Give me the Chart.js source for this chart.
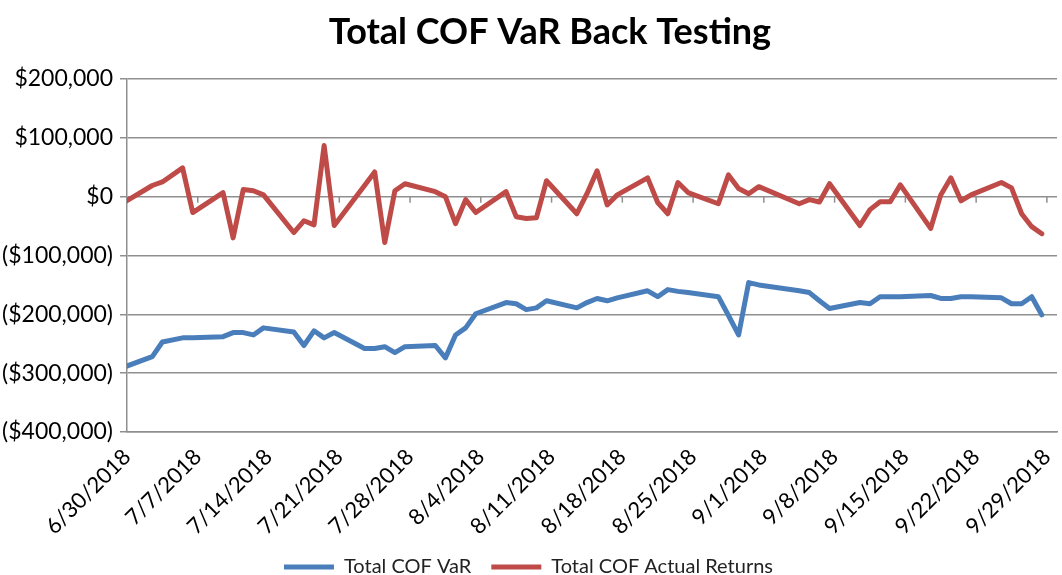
<!DOCTYPE html>
<html>
<head>
<meta charset="utf-8">
<title>Total COF VaR Back Testing</title>
<script src="https://cdn.jsdelivr.net/npm/chart.js@4.4.1/dist/chart.umd.min.js"></script>
<style>
  html, body { margin: 0; padding: 0; background: #fff; }
  canvas { display: block; }
</style>
</head>
<body>
<canvas id="chart" width="1062" height="575"></canvas>
<script>
const chartTitle = 'Total COF VaR Back Testing';

// Trading days (2018)
const dates = ['6/29','7/2','7/3','7/5','7/6','7/9','7/10','7/11','7/12','7/13',
  '7/16','7/17','7/18','7/19','7/20','7/23','7/24','7/25','7/26','7/27',
  '7/30','7/31','8/1','8/2','8/3','8/6','8/7','8/8','8/9','8/10',
  '8/13','8/14','8/15','8/16','8/17','8/20','8/21','8/22','8/23','8/24',
  '8/27','8/28','8/29','8/30','8/31','9/4','9/5','9/6','9/7',
  '9/10','9/11','9/12','9/13','9/14','9/17','9/18','9/19','9/20','9/21',
  '9/24','9/25','9/26','9/27','9/28'];

const varValues = [-291000,-272000,-247000,-240000,-240000,-238000,-231000,-231000,-235000,-223000,
  -230000,-253000,-228000,-240000,-231000,-258000,-258000,-255000,-265000,-255000,
  -253000,-274000,-235000,-223000,-199000,-180000,-182000,-192000,-189000,-177000,
  -189000,-180000,-173000,-177000,-172000,-160000,-170000,-158000,-161000,-163000,
  -170000,-202000,-235000,-146000,-150000,-160000,-163000,-177000,-190000,
  -180000,-182000,-170000,-170000,-170000,-168000,-173000,-173000,-170000,-170000,
  -172000,-182000,-182000,-170000,-201000];

const actualReturns = [-12000,19000,25000,49000,-27000,7000,-70000,12000,10000,3000,
  -61000,-41000,-48000,87000,-49000,19000,42000,-78000,10000,22000,
  8500,0,-46000,-5000,-27000,8500,-34000,-37000,-36000,27000,
  -29000,5000,44000,-14000,3000,32000,-10000,-29000,24000,7000,
  -12000,37000,14000,5000,17000,-12000,-5000,-9000,22000,
  -49000,-22000,-8500,-8500,20000,-54000,3000,32000,-7000,3000,
  24000,15000,-29000,-51000,-63000];

// x axis tick labels: weekly, 6/30/2018 .. 9/29/2018 (as day offsets)
const tickDays = [0, 7, 14, 21, 28, 35, 42, 49, 56, 63, 70, 77, 84, 91];
const axisStart = Date.UTC(2018, 5, 30);
const axisDays = 92;
const DAY = 86400000;

function dayOffset(md) {
  const [m, d] = md.split('/').map(Number);
  return (Date.UTC(2018, m - 1, d) - axisStart) / DAY;
}
function dayLabel(v) {
  const dt = new Date(axisStart + v * DAY);
  return (dt.getUTCMonth() + 1) + '/' + dt.getUTCDate() + '/' + dt.getUTCFullYear();
}
// excel date axis puts each day in the middle of its slot
const xs = dates.map(d => dayOffset(d) + 0.5);
const toPoints = vals => vals.map((v, i) => ({ x: xs[i], y: v }));

function money(v) {
  const s = '$' + Math.abs(v).toLocaleString('en-US');
  return v < 0 ? '(' + s + ')' : s;
}

const gridColor = '#8f8f8f';
const chartLeft = 127;
const chartBottom = 432;
const pad = { left: 0, right: 5, top: 79, bottom: -12 };

// small tick marks on the zero line, like excel's crossing category axis
const zeroTicks = {
  id: 'zeroTicks',
  beforeDatasetsDraw(chart) {
    const { ctx, scales: { x, y } } = chart;
    const y0 = y.getPixelForValue(0);
    ctx.save();
    ctx.strokeStyle = gridColor;
    ctx.lineWidth = 1.5;
    x.ticks.forEach(t => {
      const px = x.getPixelForValue(t.value);
      ctx.beginPath();
      ctx.moveTo(px, y0);
      ctx.lineTo(px, y0 + 6);
      ctx.stroke();
    });
    ctx.restore();
  }
};

// title sits a little right of the canvas centre, over the plot like excel does
const plotTitle = {
  id: 'plotTitle',
  afterDraw(chart) {
    const ctx = chart.ctx;
    ctx.save();
    ctx.font = 'bold 36px Lato';
    ctx.fillStyle = '#000';
    ctx.textAlign = 'center';
    ctx.textBaseline = 'middle';
    ctx.fillText(chartTitle, 550, 32);
    ctx.restore();
  }
};

const ctx = document.getElementById('chart').getContext('2d');
new Chart(ctx, {
  type: 'line',
  data: {
    datasets: [
      { label: 'Total COF VaR', data: toPoints(varValues), borderColor: '#4a7ebb', backgroundColor: '#4a7ebb',
        borderWidth: 5, pointRadius: 0, tension: 0, borderJoinStyle: 'round', borderCapStyle: 'round', clip: 0 },
      { label: 'Total COF Actual Returns', data: toPoints(actualReturns), borderColor: '#be4b48', backgroundColor: '#be4b48',
        borderWidth: 5, pointRadius: 0, tension: 0, borderJoinStyle: 'round', borderCapStyle: 'round', clip: 0 }
    ]
  },
  options: {
    responsive: false,
    animation: false,
    layout: { padding: pad },
    plugins: {
      title: { display: false },
      legend: {
        position: 'bottom',
        labels: {
          color: '#222', font: { family: 'Lato', size: 20 },
          boxWidth: 50, boxHeight: 5, padding: 20,
          generateLabels(chart) {
            return Chart.defaults.plugins.legend.labels.generateLabels(chart).map(l => ({ ...l, lineWidth: 0 }));
          }
        }
      },
      tooltip: { enabled: false }
    },
    scales: {
      x: {
        type: 'linear', min: 0, max: axisDays,
        afterBuildTicks(scale) {
          scale.ticks = tickDays.map(v => ({ value: v }));
        },
        afterFit(scale) {
          const legendH = scale.chart.legend ? scale.chart.legend.height : 30;
          scale.height = 575 - chartBottom - legendH - pad.bottom;
          scale.paddingRight = 0;
          scale.paddingLeft = 0;
        },
        grid: { display: false },
        border: { display: true, color: gridColor, width: 1.5 },
        ticks: {
          autoSkip: false, minRotation: 45, maxRotation: 45, padding: 4,
          color: '#000', font: { family: 'Lato', size: 22 },
          callback: v => dayLabel(v)
        }
      },
      y: {
        min: -400000, max: 200000,
        afterFit(scale) { scale.width = chartLeft - pad.left; },
        grid: { color: gridColor, lineWidth: 1.5, tickLength: 7 },
        border: { display: true, color: gridColor, width: 1.5 },
        ticks: {
          stepSize: 100000, padding: 7, color: '#000',
          font: { family: 'Lato', size: 23 },
          callback: v => money(v)
        }
      }
    }
  },
  plugins: [zeroTicks, plotTitle]
});
</script>
</body>
</html>
